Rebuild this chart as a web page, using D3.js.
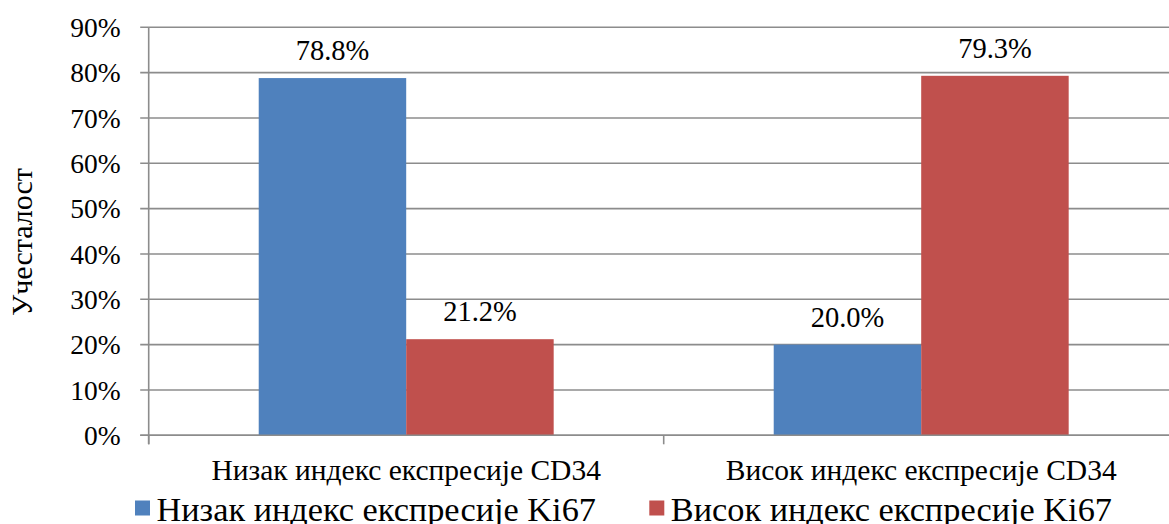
<!DOCTYPE html>
<html>
<head>
<meta charset="utf-8">
<script src="https://cdn.jsdelivr.net/npm/d3@7"></script>
<style>
  html, body { margin: 0; padding: 0; background: #fff; }
  svg { display: block; }
  svg text { font-family: "Liberation Serif", "Times New Roman", serif !important; fill: #000; }
</style>
</head>
<body>
<svg id="chart" width="1169" height="524"></svg>
<script>
const categories = ["Низак индекс експресије CD34", "Висок индекс експресије CD34"];
const seriesNames = ["Низак индекс експресије Ki67", "Висок индекс експресије Ki67"];
const seriesLow = [78.8, 20.0];
const seriesHigh = [21.2, 79.3];
const yTicks = [0, 10, 20, 30, 40, 50, 60, 70, 80, 90];
const yTitle = "Учесталост";
const colors = ["#4F81BD", "#C0504D"];

(function () {
const series = [seriesLow, seriesHigh];
const svg = d3.select("#chart");
const FONT = "'Liberation Serif', 'Times New Roman', serif";

const pLeft = 148.7, pRight = 1178.7, pTop = 27.3, pBottom = 435.3;

const x0 = d3.scaleBand().domain(categories).range([pLeft, pRight]).paddingInner(0).paddingOuter(0);
const x1 = d3.scaleBand().domain(seriesNames).range([0, x0.bandwidth()]).paddingInner(0).paddingOuter(0.746);
const y = d3.scaleLinear().domain([0, 90]).range([pBottom, pTop]);

const gridColor = "#8c8c8c";

// gridlines
svg.append("g").selectAll("line").data(yTicks).join("line")
  .attr("x1", pLeft - 8.5).attr("x2", 1169)
  .attr("y1", d => y(d)).attr("y2", d => y(d))
  .attr("stroke", gridColor).attr("stroke-width", 1.6);

// y tick labels
const yAxis = d3.axisLeft(y).tickValues(yTicks).tickSize(0).tickPadding(0).tickFormat(d => d + "%");
const gy = svg.append("g").attr("transform", `translate(${pLeft - 28},0)`).call(yAxis)
  .attr("font-family", FONT).attr("font-size", 27.5);
gy.select(".domain").remove();
gy.selectAll("text").attr("font-size", 27.5).attr("font-family", FONT).attr("fill", "#000").attr("dy", "0.34em").attr("x", 0);

// bars
categories.forEach((c, ci) => {
  seriesNames.forEach((s, si) => {
    const v = series[si][ci];
    svg.append("rect")
      .attr("x", x0(c) + x1(s))
      .attr("y", y(v))
      .attr("width", x1.bandwidth())
      .attr("height", y(0) - y(v))
      .attr("fill", colors[si]);
    svg.append("text")
      .attr("x", x0(c) + x1(s) + x1.bandwidth() / 2)
      .attr("y", y(v) - 18)
      .attr("text-anchor", "middle")
      .attr("font-family", FONT)
      .attr("font-size", 28.5)
      .text(v.toFixed(1) + "%");
  });
});

// axes lines
svg.append("line").attr("x1", pLeft).attr("x2", pLeft).attr("y1", pTop).attr("y2", pBottom + 9)
  .attr("stroke", gridColor).attr("stroke-width", 1.6);
svg.append("line").attr("x1", pLeft - 8.5).attr("x2", 1169).attr("y1", pBottom).attr("y2", pBottom)
  .attr("stroke", gridColor).attr("stroke-width", 1.6);
categories.forEach(c => {
  svg.append("line").attr("x1", x0(c)).attr("x2", x0(c)).attr("y1", pBottom).attr("y2", pBottom + 9)
    .attr("stroke", gridColor).attr("stroke-width", 1.6);
});

// category labels
svg.append("g").selectAll("text").data(categories).join("text")
  .attr("x", d => x0(d) + x0.bandwidth() / 2)
  .attr("y", 480)
  .attr("text-anchor", "middle")
  .attr("font-family", FONT)
  .attr("font-size", 29.5)
  .text(d => d);

// y title
svg.append("text")
  .attr("transform", `translate(32,242) rotate(-90)`)
  .attr("text-anchor", "middle")
  .attr("font-family", FONT)
  .attr("font-size", 30)
  .text(yTitle);

// legend
const legendX = [135, 649.3];
seriesNames.forEach((s, i) => {
  svg.append("rect").attr("x", legendX[i]).attr("y", 500.5).attr("width", 15).attr("height", 15).attr("fill", colors[i]);
  svg.append("text").attr("x", legendX[i] + 21.5).attr("y", 520.5)
    .attr("font-family", FONT).attr("font-size", 34.3).text(s);
});
})();
</script>
</body>
</html>
